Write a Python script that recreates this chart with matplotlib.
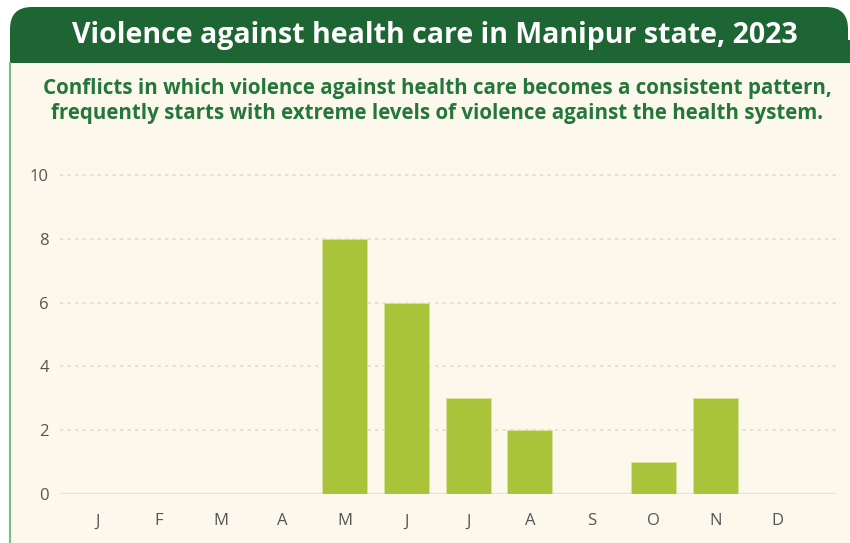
import matplotlib.pyplot as plt
from matplotlib.patches import FancyBboxPatch, Rectangle

months = ['J', 'F', 'M', 'A', 'M', 'J', 'J', 'A', 'S', 'O', 'N', 'D']
incidents = [0, 0, 0, 0, 8, 6, 3, 2, 0, 1, 3, 0]
yticks = [0, 2, 4, 6, 8, 10]

title = 'Violence against health care in Manipur state, 2023'
subtitle = ('Conflicts in which violence against health care becomes a consistent pattern,\n'
            'frequently starts with extreme levels of violence against the health system.')

W, H = 850, 543
fig = plt.figure(figsize=(W / 100, H / 100), dpi=100)
fig.patch.set_facecolor('white')

# decoration layer in pixel coordinates
bg = fig.add_axes([0, 0, 1, 1])
bg.set_xlim(0, W)
bg.set_ylim(H, 0)
bg.axis('off')
bg.add_patch(Rectangle((10, 40), 860, 520, facecolor='#fcf8ec', edgecolor='none'))
bg.add_patch(FancyBboxPatch((10, 7), 838, 70, boxstyle='round,pad=0,rounding_size=22',
                            facecolor='#1d6532', edgecolor='none'))
bg.add_patch(Rectangle((10, 40), 860, 23, facecolor='#1d6532', edgecolor='none'))
bg.add_patch(Rectangle((10, 63), 860, 30, facecolor='#fcf8ec', edgecolor='none'))
bg.plot([10.5, 10.5], [63, H], color='#7fb98a', lw=1.5)
bg.text(435, 35, title, color='white', fontsize=20.5, fontweight='bold',
        family='Open Sans', ha='center', va='center')
bg.text(437, 101, subtitle, color='#25763a', fontsize=14.8, fontweight='bold',
        family='Open Sans', ha='center', va='center', linespacing=1.22)

ax = fig.add_axes([60 / W, 49 / H, (836 - 60) / W, (494 - 175) / H])
ax.patch.set_alpha(0)
x = list(range(len(months)))
ax.bar(x, incidents, width=0.73, color='#a9c43a', edgecolor='#d6e39a', lw=0.6, zorder=3)
ax.set_xlim(-0.6, 11.95)
ax.set_ylim(0, 10)
ax.set_yticks(yticks)
ax.set_xticks(x)
ax.set_xticklabels(months)
for v in yticks[1:]:
    ax.axhline(v, color='#e6dccb', lw=1.2, ls=(0, (2, 2.5)), zorder=1, clip_on=False)
ax.axhline(0, color='#ebe3da', lw=2.5, zorder=2)
for s in ax.spines.values():
    s.set_visible(False)
ax.tick_params(length=0, labelsize=12, labelcolor='#555555')
ax.tick_params(axis='y', pad=8)
ax.tick_params(axis='x', pad=14)
for lab in ax.get_xticklabels() + ax.get_yticklabels():
    lab.set_family('Open Sans')

fig.savefig('out.png', dpi=100)
